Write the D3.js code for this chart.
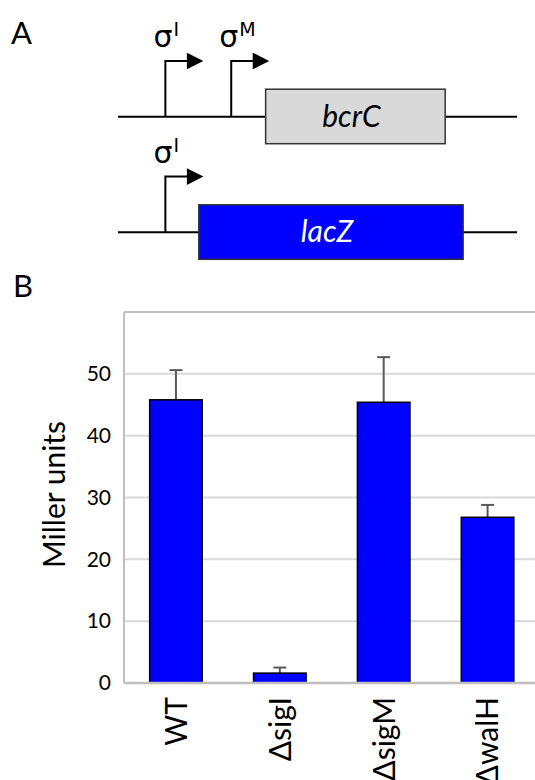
<!DOCTYPE html>
<html>
<head>
<meta charset="utf-8">
<script src="https://cdn.jsdelivr.net/npm/d3@7"></script>
<style>
  body { margin: 0; background: #fff; }
  text { font-family: Lato, "Open Sans", sans-serif; }
</style>
</head>
<body>
<script>
// panel B data
const strains = ['WT', '\u0394sigI', '\u0394sigM', '\u0394walH']
const millerUnits = [45.8, 1.6, 45.4, 26.8]
const errorUp = [4.8, 0.9, 7.3, 2.0]
const yTicks = [0, 10, 20, 30, 40, 50]

// panel A data (map units along the construct)
const geneNames = ['bcrC', 'lacZ']
const geneStart = [148, 81]
const geneEnd = [328, 346]
const promoterSites = [[47.5, 113.5], [47.5]]
const promoterSigmas = [['I', 'M'], ['I']]

const W = 535, H = 780

const svg = d3.select('body').append('svg')
  .attr('width', W)
  .attr('height', H)

// ---- panel A ----
svg.append('text')
  .attr('x', 11).attr('y', 44)
  .attr('font-size', 31)
  .text('A')

const mapX = d3.scaleLinear().domain([0, 400]).range([118, 517])
const rowY = d3.scalePoint().domain(geneNames).range([116.7, 232.3])
const geneFill = { bcrC: '#d9d9d9', lacZ: '#0000ff' }
const geneText = { bcrC: '#000', lacZ: '#fff' }

geneNames.forEach((g, i) => {
  const y = rowY(g)
  const row = svg.append('g')

  row.append('line')
    .attr('x1', mapX(0)).attr('x2', mapX(400))
    .attr('y1', y).attr('y2', y)
    .attr('stroke', '#000').attr('stroke-width', 2)

  row.append('rect')
    .attr('x', mapX(geneStart[i]))
    .attr('y', y - 27.5)
    .attr('width', mapX(geneEnd[i]) - mapX(geneStart[i]))
    .attr('height', 54.5)
    .attr('fill', geneFill[g])
    .attr('stroke', '#333').attr('stroke-width', 1.5)

  row.append('text')
    .attr('x', (mapX(geneStart[i]) + mapX(geneEnd[i])) / 2 - 4)
    .attr('y', y + 10)
    .attr('text-anchor', 'middle')
    .attr('font-size', 30)
    .attr('font-style', 'italic')
    .attr('fill', geneText[g])
    .text(g)

  promoterSites[i].forEach((p, j) => {
    const px = mapX(p)
    row.append('path')
      .attr('d', `M${px},${y}V${y - 55.7}H${px + 22}`)
      .attr('fill', 'none')
      .attr('stroke', '#000').attr('stroke-width', 2)
    row.append('path')
      .attr('d', `M${px + 21.5},${y - 64}L${px + 38},${y - 55.7}L${px + 21.5},${y - 47.4}Z`)
      .attr('fill', '#000')
    const lab = row.append('text')
      .attr('x', px - 12)
      .attr('y', y - 69.5)
      .style('font-family', '"DejaVu Sans", sans-serif')
    lab.append('tspan').attr('font-size', 30).text('\u03c3')
    lab.append('tspan').attr('font-size', 19).attr('dy', -11).attr('dx', 1).text(promoterSigmas[i][j])
  })
})

// ---- panel B ----
svg.append('text')
  .attr('x', 13).attr('y', 297)
  .attr('font-size', 31)
  .text('B')

const margin = { top: 312, left: 124 }
const x = d3.scaleBand()
  .domain(strains)
  .range([margin.left, 539.5])
  .paddingInner(0.494)
  .paddingOuter(0.247)

const y = d3.scaleLinear()
  .domain([0, 60])
  .range([683, margin.top])

// gridlines
svg.append('g')
  .selectAll('line')
  .data(yTicks.filter(d => d > 0))
  .join('line')
  .attr('x1', margin.left).attr('x2', W)
  .attr('y1', d => y(d)).attr('y2', d => y(d))
  .attr('stroke', '#d9d9d9').attr('stroke-width', 2)

// plot frame: top + left
svg.append('line')
  .attr('x1', margin.left).attr('x2', W)
  .attr('y1', y(60)).attr('y2', y(60))
  .attr('stroke', '#bfbfbf').attr('stroke-width', 2)
svg.append('line')
  .attr('x1', margin.left).attr('x2', margin.left)
  .attr('y1', y(60)).attr('y2', y(0))
  .attr('stroke', '#bfbfbf').attr('stroke-width', 2)

// y axis labels
const yAxis = svg.append('g')
  .attr('transform', `translate(${margin.left},0)`)
  .call(d3.axisLeft(y).tickValues(yTicks).tickSize(0).tickPadding(13))
yAxis.select('.domain').remove()
yAxis.selectAll('text')
  .attr('font-size', 21)
  .attr('font-family', 'Lato, sans-serif')
  .attr('fill', '#000')

svg.append('text')
  .attr('transform', `translate(65,${(y(0) + y(60)) / 2 - 3}) rotate(-90)`)
  .attr('text-anchor', 'middle')
  .attr('font-size', 30)
  .text('Miller units')

// error bars
const err = svg.append('g')
  .selectAll('g')
  .data(strains)
  .join('g')
err.append('line')
  .attr('x1', d => x(d) + x.bandwidth() / 2)
  .attr('x2', d => x(d) + x.bandwidth() / 2)
  .attr('y1', (d, i) => y(millerUnits[i]))
  .attr('y2', (d, i) => y(millerUnits[i] + errorUp[i]))
  .attr('stroke', '#595959').attr('stroke-width', 2)
err.append('line')
  .attr('x1', d => x(d) + x.bandwidth() / 2 - 6.5)
  .attr('x2', d => x(d) + x.bandwidth() / 2 + 6.5)
  .attr('y1', (d, i) => y(millerUnits[i] + errorUp[i]))
  .attr('y2', (d, i) => y(millerUnits[i] + errorUp[i]))
  .attr('stroke', '#595959').attr('stroke-width', 2)

// bars
svg.append('g')
  .selectAll('rect')
  .data(strains)
  .join('rect')
  .attr('x', d => x(d))
  .attr('width', x.bandwidth())
  .attr('y', (d, i) => y(millerUnits[i]))
  .attr('height', (d, i) => y(0) - y(millerUnits[i]))
  .attr('fill', '#0000ff')
  .attr('stroke', '#000').attr('stroke-width', 1.5)

// baseline
svg.append('line')
  .attr('x1', margin.left).attr('x2', W)
  .attr('y1', y(0)).attr('y2', y(0))
  .attr('stroke', '#bfbfbf').attr('stroke-width', 2.5)

// x axis labels, rotated
const xAxis = svg.append('g')
  .attr('transform', `translate(0,${y(0)})`)
  .call(d3.axisBottom(x).tickSize(0).tickPadding(0))
xAxis.select('.domain').remove()
xAxis.selectAll('text')
  .attr('font-size', 30)
  .attr('font-family', 'Lato, sans-serif')
  .attr('fill', '#000')
  .attr('text-anchor', 'end')
  .attr('transform', 'rotate(-90)')
  .attr('x', -14)
  .attr('y', 0)
  .attr('dy', '0.36em')
</script>
</body>
</html>
